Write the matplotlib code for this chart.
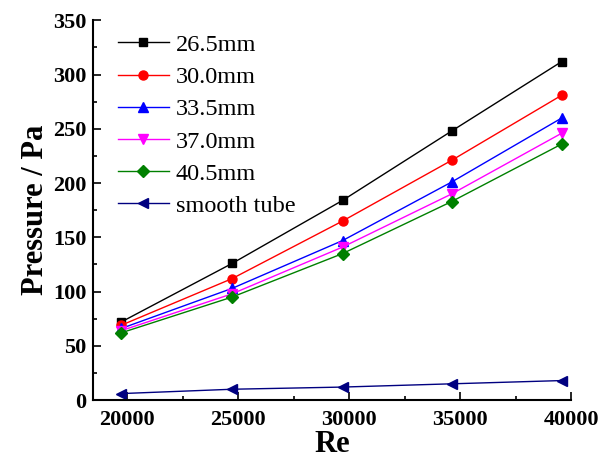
import numpy as np
import matplotlib.pyplot as plt
from matplotlib.ticker import MultipleLocator

plt.rcParams["font.family"] = ["Liberation Serif", "DejaVu Serif"]

re = [19730, 24730, 29700, 34620, 39580]
p_265 = [72, 126, 184, 248, 312]
p_300 = [69, 112, 165, 221, 281]
p_335 = [66, 103, 147, 201, 260]
p_370 = [64, 98, 141, 190, 246]
p_405 = [62, 95, 135, 183, 236]
p_smooth = [6, 10, 12, 15, 18]

labels = ["26.5mm", "30.0mm", "33.5mm", "37.0mm", "40.5mm", "smooth tube"]
series = [p_265, p_300, p_335, p_370, p_405, p_smooth]
colors = ["black", "red", "blue", "magenta", "green", "navy"]
markers = ["s", "o", "^", "v", "D", "<"]
sizes = [5.5, 6.5, 7.5, 7.5, 6.5, 7.5]

fig = plt.figure(figsize=(5.98, 4.62), dpi=100)
ax = fig.add_axes([0.156, 0.134, 0.799, 0.822])

for y, lab, c, m, ms in zip(series, labels, colors, markers, sizes):
    ax.plot(re, y, color=c, marker=m, markersize=ms, linewidth=1.0, label=lab)

ax.set_xlim(18470, 40000)
ax.set_ylim(0, 350)
ax.xaxis.set_major_locator(MultipleLocator(5000))
ax.xaxis.set_minor_locator(MultipleLocator(2500))
ax.yaxis.set_major_locator(MultipleLocator(50))
ax.yaxis.set_minor_locator(MultipleLocator(25))

for s in ["top", "right"]:
    ax.spines[s].set_visible(False)
for s in ["left", "bottom"]:
    ax.spines[s].set_linewidth(1.5)

ax.tick_params(which="both", direction="in", width=1.2)
ax.tick_params(which="major", length=6, labelsize=16)
ax.tick_params(which="minor", length=3)
ax.tick_params(axis="x", which="major", pad=7)
ax.tick_params(axis="y", which="major", pad=5)
for t in ax.get_xticklabels() + ax.get_yticklabels():
    t.set_fontweight("bold")

ax.set_xlabel("Re", fontsize=22, fontweight="bold", labelpad=0)
ax.set_ylabel("Pressure / Pa", fontsize=22, fontweight="bold", labelpad=2)

ax.legend(loc="upper left", bbox_to_anchor=(0.005, 1.022), frameon=False,
          fontsize=17.5, handlelength=2.1, labelspacing=0.42, handletextpad=0.3)

plt.savefig("out.png", dpi=100)
plt.close()
